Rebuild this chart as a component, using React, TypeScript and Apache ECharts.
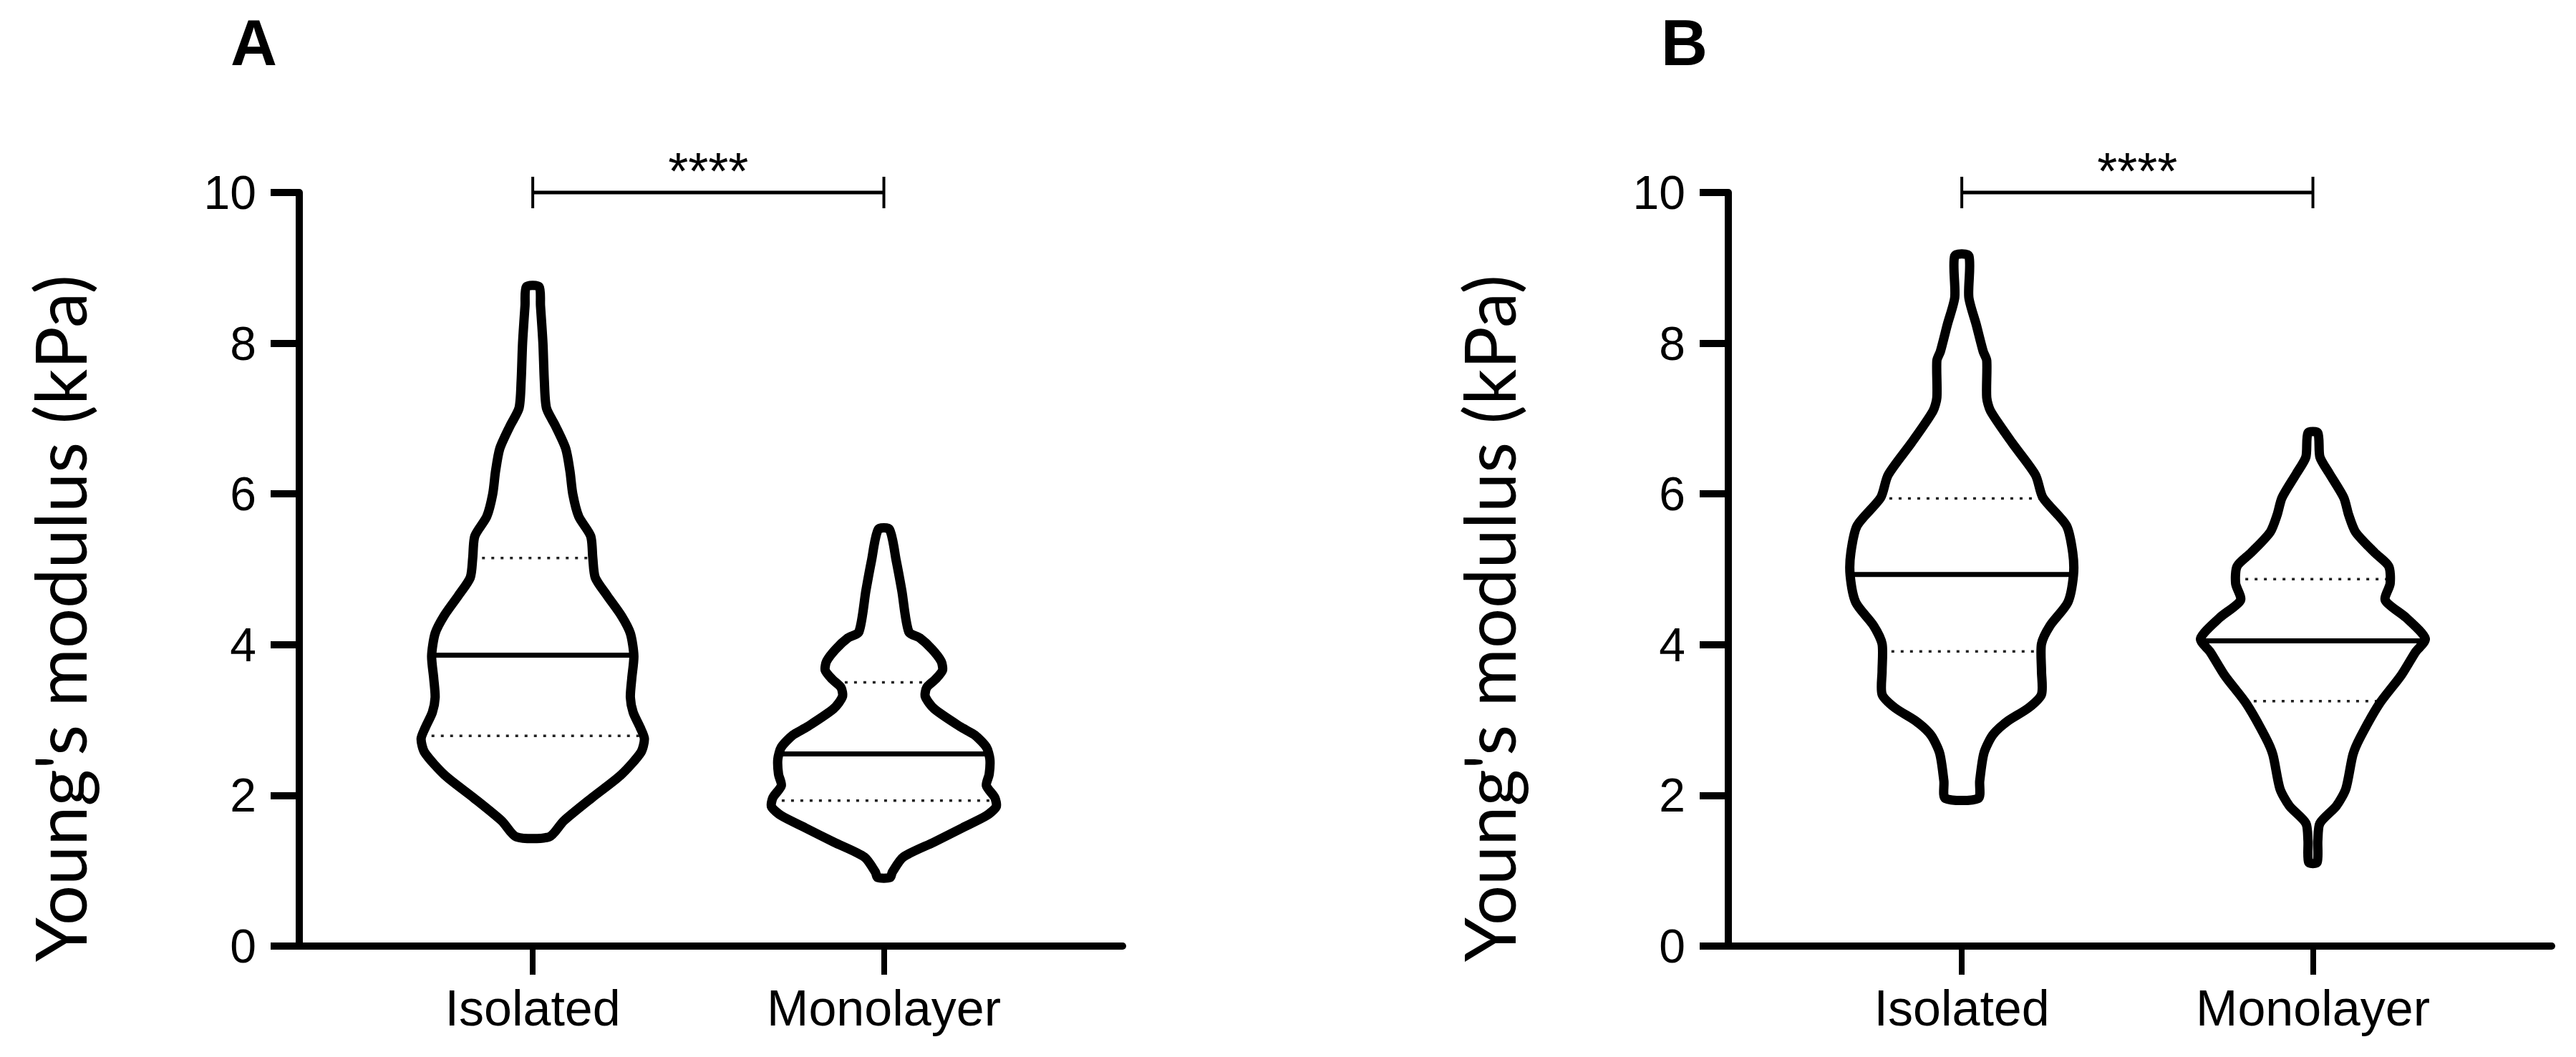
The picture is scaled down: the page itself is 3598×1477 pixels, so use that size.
import React, { useEffect, useRef } from "react";
import * as echarts from "echarts";

// ---------- data ----------
const categories = ["Isolated", "Monolayer"];
const categoryPositions = [1, 2];
const yTickValues = [0, 2, 4, 6, 8, 10];
const panelLetters = ["A", "B"];
const yAxisTitle = "Young's modulus (kPa)";
const significanceText = "****";
const significanceLevel = 10;

// Violin outlines: values (kPa), top -> bottom, with half-widths in x-axis units
const aIsoValues = [8.75, 8.5, 8.0, 7.5, 7.14, 6.9, 6.6, 6.3, 6.0, 5.7, 5.44, 5.15, 4.89, 4.65, 4.38, 4.15, 3.85, 3.55, 3.3, 3.1, 2.9, 2.75, 2.57, 2.27, 1.97, 1.66, 1.45];
const aIsoHalfWidths = [0.018, 0.022, 0.029, 0.033, 0.039, 0.065, 0.094, 0.106, 0.114, 0.131, 0.165, 0.171, 0.178, 0.212, 0.253, 0.278, 0.288, 0.282, 0.278, 0.286, 0.306, 0.318, 0.308, 0.251, 0.169, 0.088, 0.047];

const aMonoValues = [5.53, 5.12, 4.72, 4.17, 4.09, 3.94, 3.78, 3.66, 3.54, 3.43, 3.31, 3.15, 2.91, 2.8, 2.64, 2.48, 2.28, 2.13, 1.97, 1.85, 1.73, 1.57, 1.38, 1.18, 0.98, 0.91];
const aMonoHalfWidths = [0.016, 0.035, 0.051, 0.071, 0.102, 0.137, 0.163, 0.167, 0.147, 0.122, 0.118, 0.143, 0.218, 0.259, 0.292, 0.302, 0.3, 0.292, 0.316, 0.32, 0.292, 0.224, 0.143, 0.055, 0.024, 0.018];

const bIsoValues = [9.16, 8.61, 8.25, 7.89, 7.77, 7.28, 7.1, 6.68, 6.25, 5.95, 5.58, 5.22, 4.92, 4.56, 4.25, 4.01, 3.65, 3.34, 3.16, 2.98, 2.8, 2.56, 2.19, 1.96];
const bIsoHalfWidths = [0.02, 0.02, 0.041, 0.061, 0.071, 0.071, 0.082, 0.143, 0.21, 0.231, 0.298, 0.316, 0.318, 0.302, 0.251, 0.227, 0.227, 0.227, 0.19, 0.129, 0.088, 0.063, 0.051, 0.047];

const bMonoValues = [6.81, 6.49, 6.27, 5.95, 5.72, 5.49, 5.22, 5.04, 4.81, 4.59, 4.36, 4.08, 3.9, 3.59, 3.22, 2.77, 2.54, 2.09, 1.86, 1.63, 1.4, 1.11];
const bMonoHalfWidths = [0.014, 0.02, 0.047, 0.088, 0.102, 0.122, 0.176, 0.216, 0.22, 0.206, 0.265, 0.32, 0.292, 0.251, 0.19, 0.135, 0.114, 0.094, 0.067, 0.02, 0.014, 0.012];

// Summary statistics [Isolated, Monolayer]
const aMedians = [3.86, 2.55];
const aQ1 = [2.79, 1.93];
const aQ3 = [5.15, 3.5];
const bMedians = [4.93, 4.05];
const bQ1 = [3.91, 3.25];
const bQ3 = [5.94, 4.87];

// ---------- helpers ----------
type Profile = { values: number[]; hw: number[] };

function hwAt(p: Profile, v: number): number {
  for (let k = 0; k < p.values.length - 1; k++) {
    const a = p.values[k], b = p.values[k + 1];
    if (v <= a && v >= b) {
      const t = (a - v) / (a - b);
      return p.hw[k] + t * (p.hw[k + 1] - p.hw[k]);
    }
  }
  return 0;
}

const FONT = "'Liberation Sans', Arial, Helvetica, sans-serif";

function violinRenderer(profiles: Profile[], medians: number[], q1: number[], q3: number[]) {
  return (params: any, api: any) => {
    const i = params.dataIndex;
    const xc = api.value(0);
    const p = profiles[i];
    const right = p.values.map((v, k) => api.coord([xc + p.hw[k], v]));
    const left = p.values.map((v, k) => api.coord([xc - p.hw[k], v])).reverse();
    const pts = right.concat(left);
    const hline = (v: number, style: any) => {
      const h = hwAt(p, v);
      const a = api.coord([xc - h, v]);
      const b = api.coord([xc + h, v]);
      return { type: "line", shape: { x1: a[0], y1: a[1], x2: b[0], y2: b[1] }, style };
    };
    const dotted = { stroke: "#222", lineWidth: 3.5, lineDash: [4, 9] };
    return {
      type: "group",
      children: [
        hline(q1[i], dotted),
        hline(q3[i], dotted),
        hline(medians[i], { stroke: "#000", lineWidth: 7 }),
        {
          type: "polygon",
          shape: { points: pts, smooth: 0.25 },
          style: { fill: "none", stroke: "#000", lineWidth: 13, lineJoin: "round" },
        },
      ],
    };
  };
}

function bracketRenderer(params: any, api: any) {
  const a = api.coord([api.value(0), api.value(2)]);
  const b = api.coord([api.value(1), api.value(2)]);
  const cap = 22;
  return {
    type: "group",
    children: [
      { type: "line", shape: { x1: a[0], y1: a[1], x2: b[0], y2: b[1] }, style: { stroke: "#000", lineWidth: 5 } },
      { type: "line", shape: { x1: a[0], y1: a[1] - cap, x2: a[0], y2: a[1] + cap }, style: { stroke: "#000", lineWidth: 4 } },
      { type: "line", shape: { x1: b[0], y1: b[1] - cap, x2: b[0], y2: b[1] + cap }, style: { stroke: "#000", lineWidth: 4 } },
      {
        type: "text",
        style: {
          text: significanceText,
          x: (a[0] + b[0]) / 2,
          y: a[1] - 30,
          font: `72px ${FONT}`,
          fill: "#000",
          align: "center",
          verticalAlign: "middle",
          textAlign: "center",
          textVerticalAlign: "middle",
        },
      },
    ],
  };
}

export default function App() {
  const ref = useRef<HTMLDivElement>(null);
  useEffect(() => {
    document.body.style.margin = "0";
    const chart = echarts.init(ref.current!, null, { renderer: "svg" });

    const panels = [
      {
        left: 418,
        titleX: 82,
        letterX: 322,
        profiles: [
          { values: aIsoValues, hw: aIsoHalfWidths },
          { values: aMonoValues, hw: aMonoHalfWidths },
        ],
        medians: aMedians,
        q1: aQ1,
        q3: aQ3,
      },
      {
        left: 2414,
        titleX: 2078,
        letterX: 2320,
        profiles: [
          { values: bIsoValues, hw: bIsoHalfWidths },
          { values: bMonoValues, hw: bMonoHalfWidths },
        ],
        medians: bMedians,
        q1: bQ1,
        q3: bQ3,
      },
    ];

    const option: any = {
      animation: false,
      backgroundColor: "#fff",
      grid: panels.map((p) => ({ left: p.left, top: 269, width: 1150, height: 1053 })),
      xAxis: panels.map((p, i) => ({
        gridIndex: i,
        type: "value",
        min: 0.335,
        max: 2.68,
        axisLine: { show: true, onZero: false, lineStyle: { color: "#000", width: 10 } },
        axisTick: { show: true, customValues: categoryPositions, length: 40, lineStyle: { color: "#000", width: 8 } },
        axisLabel: {
          customValues: categoryPositions,
          formatter: (v: number) => categories[categoryPositions.indexOf(Math.round(v))] ?? "",
          margin: 52,
          fontSize: 70,
          fontFamily: FONT,
          color: "#000",
        },
        splitLine: { show: false },
      })),
      yAxis: panels.map((p, i) => ({
        gridIndex: i,
        type: "value",
        min: yTickValues[0],
        max: yTickValues[yTickValues.length - 1],
        interval: 2,
        axisLine: { show: true, lineStyle: { color: "#000", width: 10 } },
        axisTick: { show: true, length: 40, lineStyle: { color: "#000", width: 10 } },
        axisLabel: { margin: 60, fontSize: 66, fontFamily: FONT, color: "#000" },
        splitLine: { show: false },
      })),
      series: panels.flatMap((p, i) => [
        {
          type: "custom",
          xAxisIndex: i,
          yAxisIndex: i,
          clip: false,
          renderItem: violinRenderer(p.profiles, p.medians, p.q1, p.q3),
          encode: { x: 0, y: 1 },
          data: categoryPositions.map((x, k) => [x, p.medians[k]]),
        },
        {
          type: "custom",
          xAxisIndex: i,
          yAxisIndex: i,
          clip: false,
          renderItem: bracketRenderer,
          encode: { x: [0, 1], y: 2 },
          data: [[categoryPositions[0], categoryPositions[1], significanceLevel]],
        },
      ]),
      graphic: panels.flatMap((p, i) => [
        {
          type: "text",
          x: p.letterX,
          y: 60,
          style: {
            text: panelLetters[i],
            font: `bold 90px ${FONT}`,
            fill: "#000",
            textAlign: "left",
            textVerticalAlign: "middle",
          },
        },
        {
          type: "text",
          x: p.titleX,
          y: 864,
          rotation: Math.PI / 2,
          style: {
            text: yAxisTitle,
            font: "99px Lato, 'Open Sans', sans-serif",
            fill: "#000",
            textAlign: "center",
            textVerticalAlign: "middle",
          },
        },
      ]),
    };
    chart.setOption(option);
    return () => chart.dispose();
  }, []);
  return <div ref={ref} style={{ width: 3598, height: 1477 }} />;
}
